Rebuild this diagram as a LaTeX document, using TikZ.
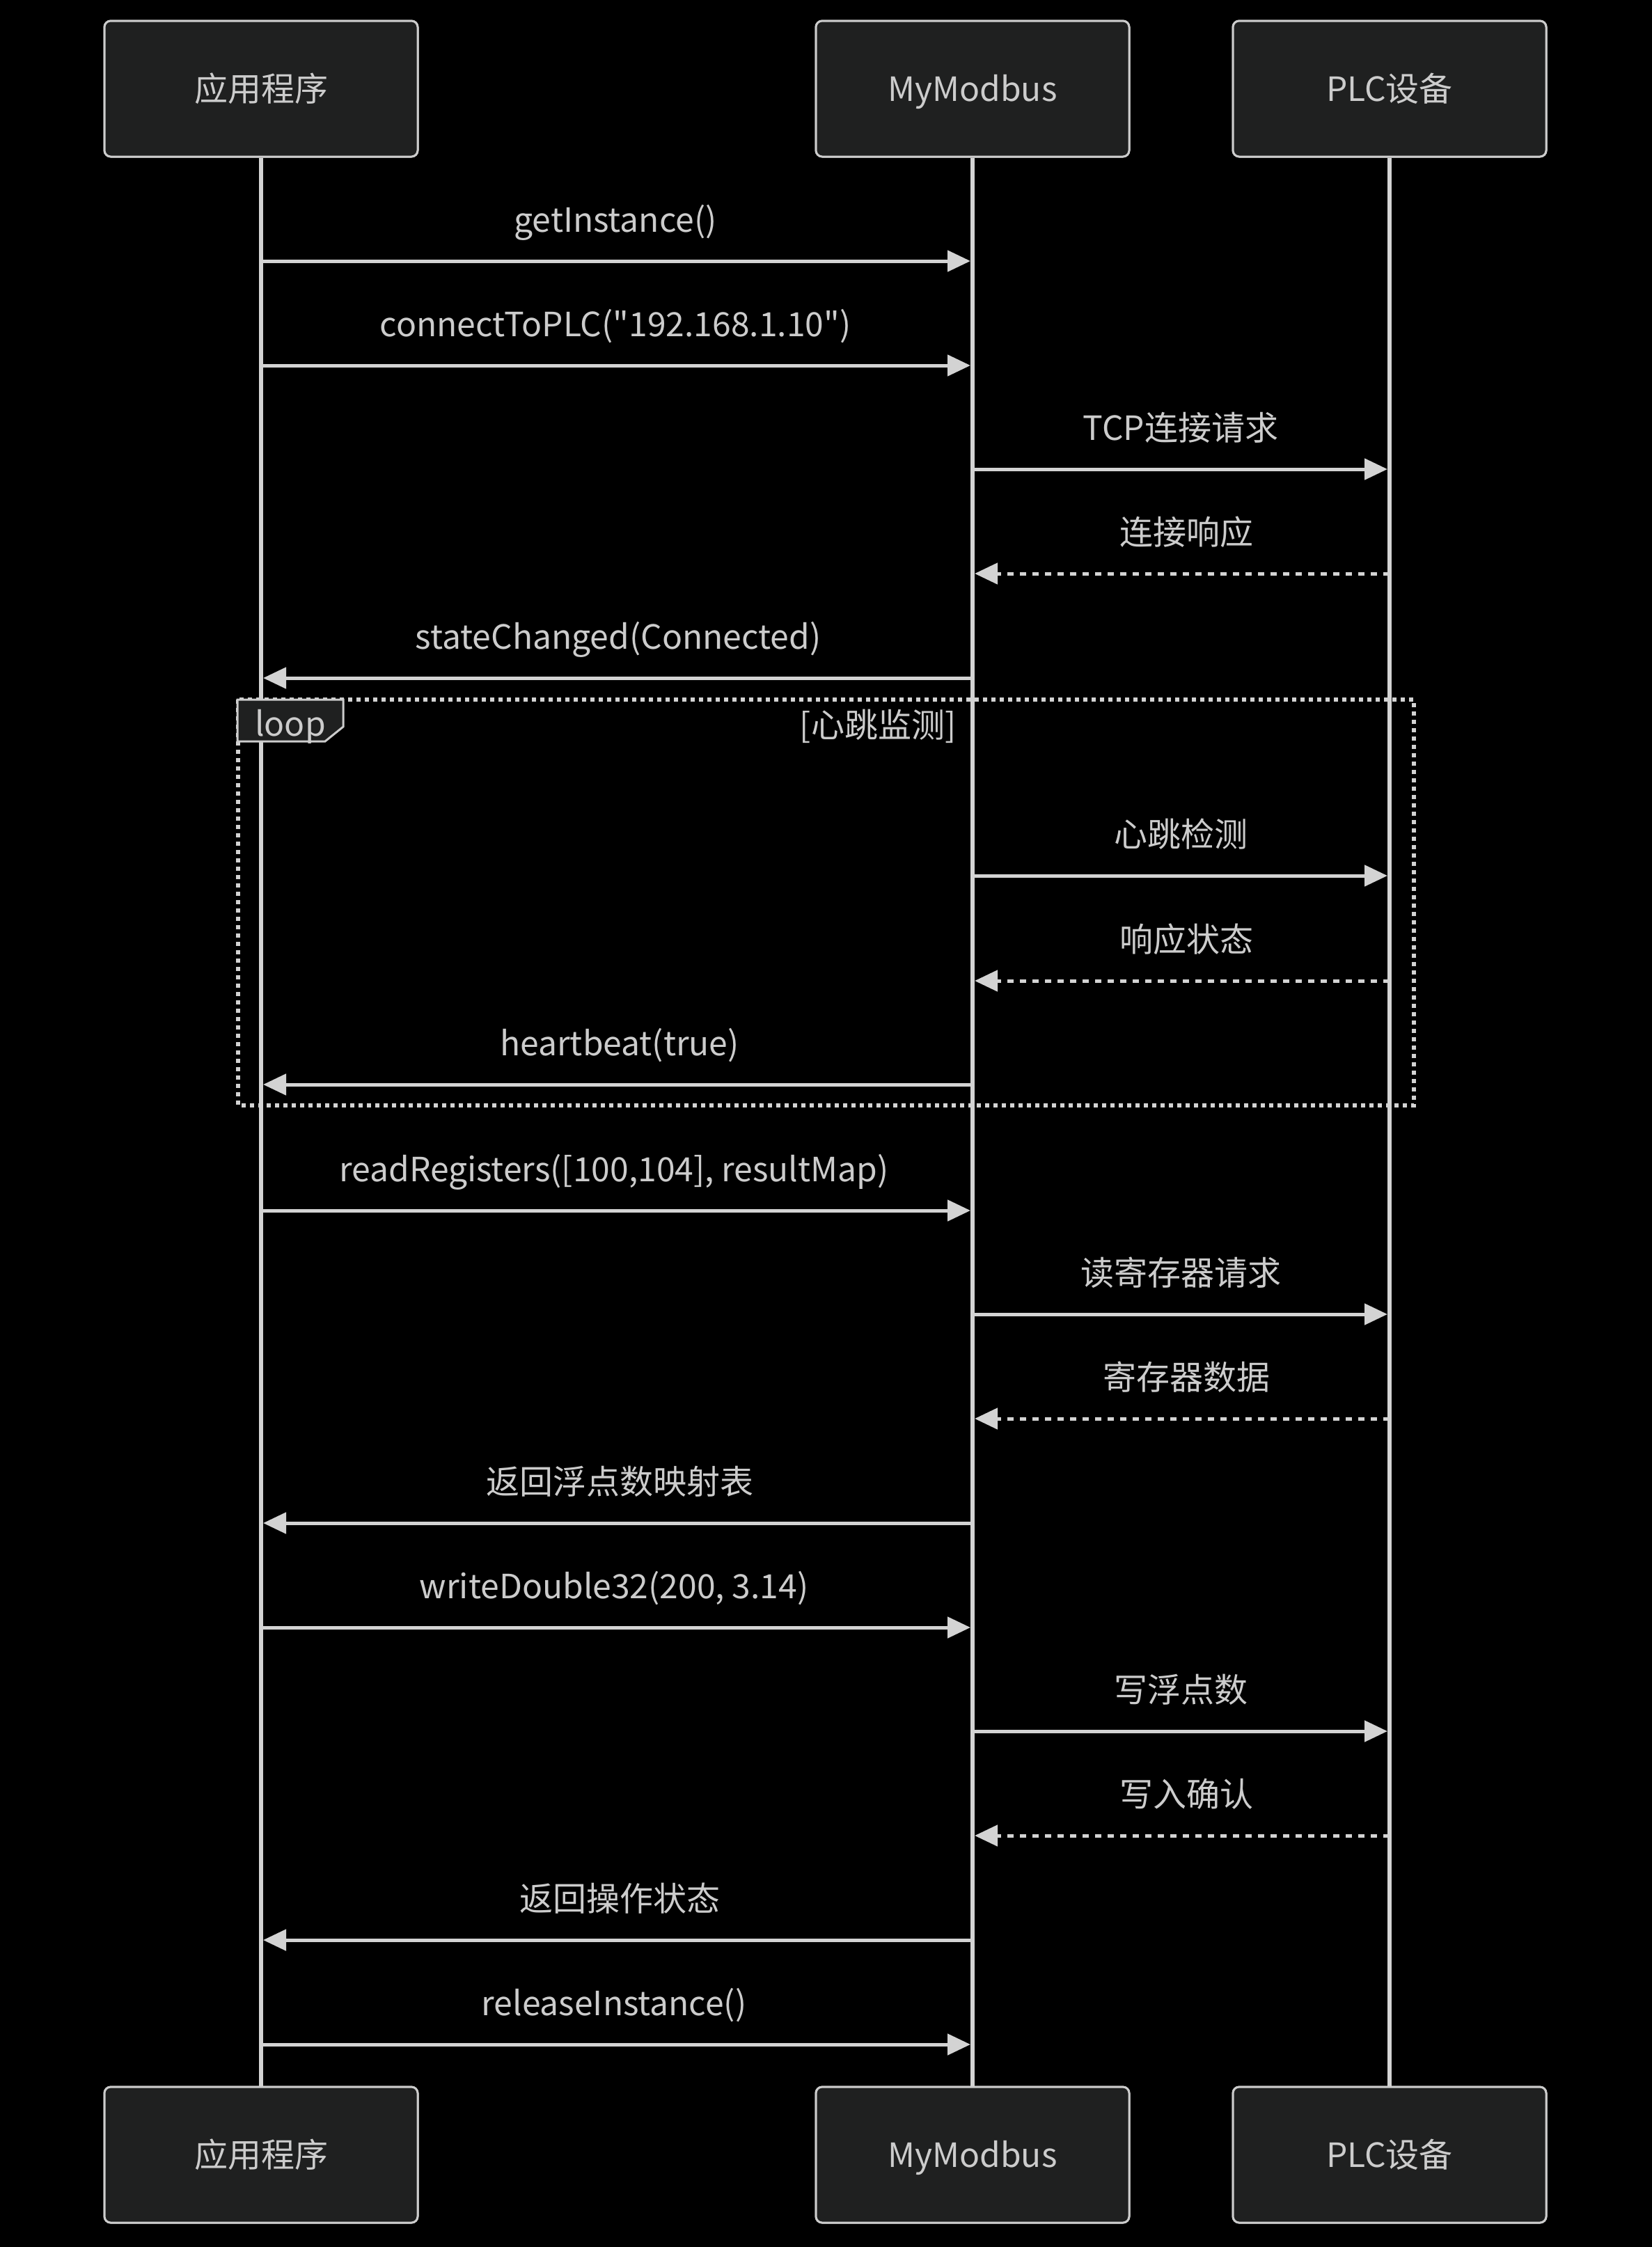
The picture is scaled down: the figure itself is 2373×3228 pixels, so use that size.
\documentclass[tikz,border=0pt]{standalone}
\usepackage{fontspec}
\setmainfont{Noto Sans CJK SC}[Ligatures=TeXOff]
\usetikzlibrary{arrows.meta,calc}
\definecolor{txt}{HTML}{CCCCCC}
\definecolor{ln}{HTML}{D3D3D3}
\definecolor{boxbg}{HTML}{1F2020}
\begin{document}
\begin{tikzpicture}[x=1pt,y=-1pt,
  every node/.style={font=\fontsize{48pt}{56pt}\selectfont, text=txt, text height=41pt, text depth=5pt, inner sep=0pt},
  actor/.style={draw=txt, line width=3pt, fill=boxbg, rounded corners=9pt, minimum width=450pt, minimum height=195pt},
  life/.style={draw=ln, line width=5.5pt},
  msg/.style={draw=ln, line width=5pt, -{Triangle[length=33pt,width=30pt]}},
  reply/.style={msg, dash pattern=on 9pt off 9pt},
  loopbox/.style={draw=ln, line width=6pt, dash pattern=on 6pt off 6pt},
  lbox/.style={draw=txt, line width=3pt, fill=boxbg},
  lbl/.style={anchor=center}
]
\useasboundingbox[fill=black] (0,0) rectangle (2373,3228);

% actors
\node[actor] (appT) at (375,127.5) {应用程序};
\node[actor] (mmT) at (1397,127.5) {MyModbus};
\node[actor] (plcT) at (1996,127.5) {PLC设备};
\node[actor] (appB) at (375,3095.5) {应用程序};
\node[actor] (mmB) at (1397,3095.5) {MyModbus};
\node[actor] (plcB) at (1996,3095.5) {PLC设备};

% lifelines
\draw[life] (appT.south) -- (appB.north);
\draw[life] (mmT.south) -- (mmB.north);
\draw[life] (plcT.south) -- (plcB.north);

% redraw actors on top of lifelines
\node[actor] at (appT) {应用程序};
\node[actor] at (mmT) {MyModbus};
\node[actor] at (plcT) {PLC设备};
\node[actor] at (appB) {应用程序};
\node[actor] at (mmB) {MyModbus};
\node[actor] at (plcB) {PLC设备};

% loop frame and label box
\draw[loopbox] (342,1005) rectangle (2031,1588);
\draw[lbox] (341,1005) -- (493,1005) -- (493,1044) -- (467,1065) -- (341,1065) -- cycle;
\node (looplbl) at (417,1039) {loop};
\node (looptitle) at (1261,1041) {[心跳监测]};

% message rows
\coordinate (m1) at (0,375);
\coordinate (m2) at (0,525);
\coordinate (m3) at (0,674);
\coordinate (m4) at (0,824);
\coordinate (m5) at (0,974);
\coordinate (m6) at (0,1258);
\coordinate (m7) at (0,1409);
\coordinate (m8) at (0,1558);
\coordinate (m9) at (0,1739);
\coordinate (m10) at (0,1888);
\coordinate (m11) at (0,2038);
\coordinate (m12) at (0,2188);
\coordinate (m13) at (0,2338);
\coordinate (m14) at (0,2487);
\coordinate (m15) at (0,2637);
\coordinate (m16) at (0,2787);
\coordinate (m17) at (0,2937);

\draw[msg] (appT |- m1) -- ([xshift=-3pt]mmT |- m1);
\node[lbl] (t1) at (884,315) {getInstance()};
\draw[msg] (appT |- m2) -- ([xshift=-3pt]mmT |- m2);
\node[lbl] (t2) at (884,465) {connectToPLC("192.168.1.10")};
\draw[msg] (mmT |- m3) -- ([xshift=-3pt]plcT |- m3);
\node[lbl] (t3) at (1696,614) {TCP连接请求};
\draw[reply] (plcT |- m4) -- ([xshift=3pt]mmT |- m4);
\node[lbl] (t4) at (1704,764) {连接响应};
\draw[msg] (mmT |- m5) -- ([xshift=3pt]appT |- m5);
\node[lbl] (t5) at (888,914) {stateChanged(Connected)};

\draw[msg] (mmT |- m6) -- ([xshift=-3pt]plcT |- m6);
\node[lbl] (t6) at (1696,1198) {心跳检测};
\draw[reply] (plcT |- m7) -- ([xshift=3pt]mmT |- m7);
\node[lbl] (t7) at (1704,1349) {响应状态};
\draw[msg] (mmT |- m8) -- ([xshift=3pt]appT |- m8);
\node[lbl] (t8) at (890,1498) {heartbeat(true)};

\draw[msg] (appT |- m9) -- ([xshift=-3pt]mmT |- m9);
\node[lbl] (t9) at (882,1679) {readRegisters([100,104], resultMap)};
\draw[msg] (mmT |- m10) -- ([xshift=-3pt]plcT |- m10);
\node[lbl] (t10) at (1696,1828) {读寄存器请求};
\draw[reply] (plcT |- m11) -- ([xshift=3pt]mmT |- m11);
\node[lbl] (t11) at (1704,1978) {寄存器数据};
\draw[msg] (mmT |- m12) -- ([xshift=3pt]appT |- m12);
\node[lbl] (t12) at (890,2128) {返回浮点数映射表};
\draw[msg] (appT |- m13) -- ([xshift=-3pt]mmT |- m13);
\node[lbl] (t13) at (882,2278) {writeDouble32(200, 3.14)};
\draw[msg] (mmT |- m14) -- ([xshift=-3pt]plcT |- m14);
\node[lbl] (t14) at (1696,2427) {写浮点数};
\draw[reply] (plcT |- m15) -- ([xshift=3pt]mmT |- m15);
\node[lbl] (t15) at (1704,2577) {写入确认};
\draw[msg] (mmT |- m16) -- ([xshift=3pt]appT |- m16);
\node[lbl] (t16) at (890,2727) {返回操作状态};
\draw[msg] (appT |- m17) -- ([xshift=-3pt]mmT |- m17);
\node[lbl] (t17) at (882,2877) {releaseInstance()};
\end{tikzpicture}
\end{document}
